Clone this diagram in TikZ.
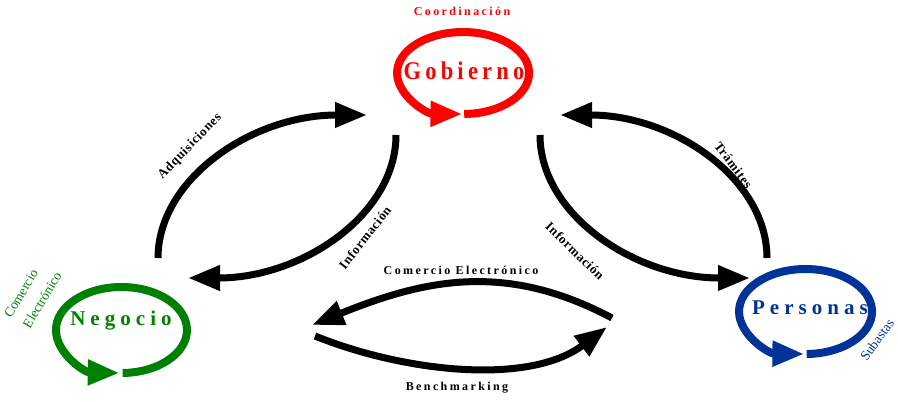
\documentclass[tikz,border=0pt]{standalone}
\usepackage{fontspec}
\setmainfont{Liberation Serif}
\newfontfamily\spreadfont[LetterSpace=20]{Liberation Serif}
\newfontfamily\actorfont[LetterSpace=24]{Liberation Serif}
\newfontfamily\gobfont[LetterSpace=19]{Liberation Serif}
\newfontfamily\labelfont[LetterSpace=5]{Liberation Serif}
\usepackage{xcolor}
\definecolor{gobred}{RGB}{255,0,0}
\definecolor{neggreen}{RGB}{0,128,0}
\definecolor{perblue}{RGB}{0,51,153}
\usepackage{tikz}
\usetikzlibrary{arrows.meta}
\tikzstyle{arrow} = [line width=7pt, -{Triangle[length=32pt,width=24pt]}]
\tikzstyle{selfarrow} = [line width=8pt, -{Triangle[length=32pt,width=24pt]}]
\tikzstyle{actor} = [font=\actorfont\bfseries\fontsize{21}{21}\selectfont]
\tikzstyle{bigactor} = [font=\gobfont\bfseries\fontsize{25.5}{25.5}\selectfont, xscale=0.88]
\tikzstyle{flow} = [font=\spreadfont\bfseries\fontsize{12}{12}\selectfont]
\tikzstyle{lbl} = [font=\labelfont\bfseries\fontsize{13}{13}\selectfont]
\tikzstyle{side} = [font=\fontsize{13.5}{13.5}\selectfont]

\begin{document}
\begin{tikzpicture}[x=1pt,y=1pt]
    \useasboundingbox (0,0) rectangle (898,402);

    % rings round the three actors
    \coordinate (gob-s) at (464.2,288);
    \coordinate (neg-s) at (122.6,29);
    \coordinate (per-s) at (806.7,48);
    \draw[selfarrow, gobred] (gob-s) arc[start angle=271, end angle=629.5, x radius=66pt, y radius=41pt];
    \draw[selfarrow, neggreen] (neg-s) arc[start angle=271, end angle=628.5, x radius=65.5pt, y radius=43pt];
    \draw[selfarrow, perblue] (per-s) arc[start angle=271, end angle=629, x radius=66.5pt, y radius=42.5pt];

    \node (gob) at (464,331) [bigactor, text=gobred] {Gobierno};
    \node (neg) at (121,81) [actor, text=neggreen] {Negocio};
    \node (per) at (810,94) [actor, text=perblue] {Personas};

    \node (coord) at (462,391) [flow, text=gobred] {Coordinación};
    \node (ce1) at (21,108.5) [side, text=neggreen, rotate=59] {Comercio};
    \node (ce2) at (42,102) [side, text=neggreen, rotate=59] {Electrónico};
    \node (sub) at (877,62) [side, text=perblue, rotate=54] {Subastas};

    % ends of the flows
    \coordinate (adq-s) at (158,144);
    \coordinate (adq-e) at (367,287);
    \coordinate (infn-s) at (396,267);
    \coordinate (infn-e) at (188,124);
    \coordinate (infp-s) at (540,267);
    \coordinate (infp-e) at (750,124);
    \coordinate (tra-s) at (767,144);
    \coordinate (tra-e) at (560,287);
    \coordinate (ce-s) at (612,84);
    \coordinate (ce-e) at (312,77);
    \coordinate (ben-s) at (315,66);
    \coordinate (ben-e) at (607,75);

    \draw[arrow] (adq-s) to[out=90, in=180, out distance=79pt, in distance=115pt] (adq-e);
    \draw[arrow] (infn-s) to[out=270, in=0, out distance=79pt, in distance=115pt] (infn-e);
    \draw[arrow] (infp-s) to[out=270, in=180, out distance=79pt, in distance=116pt] (infp-e);
    \draw[arrow] (tra-s) to[out=90, in=0, out distance=79pt, in distance=114pt] (tra-e);
    \draw[arrow] (ce-s) to[out=152, in=22, looseness=1.03] (ce-e);
    \draw[arrow] (ben-s) to[out=-22, in=217, looseness=0.85] (ben-e);

    \node (adq) at (190,255.5) [lbl, rotate=46] {Adquisiciones};
    \node (infn) at (365,164.5) [lbl, rotate=52] {Información};
    \node (infp) at (575,151) [lbl, rotate=-44] {Información};
    \node (tra) at (733.5,237) [lbl, rotate=-53] {Trámites};
    \node (ce) at (461,132) [flow] {Comercio Electrónico};
    \node (ben) at (457,14) [flow] {Benchmarking};

\end{tikzpicture}
\end{document}
